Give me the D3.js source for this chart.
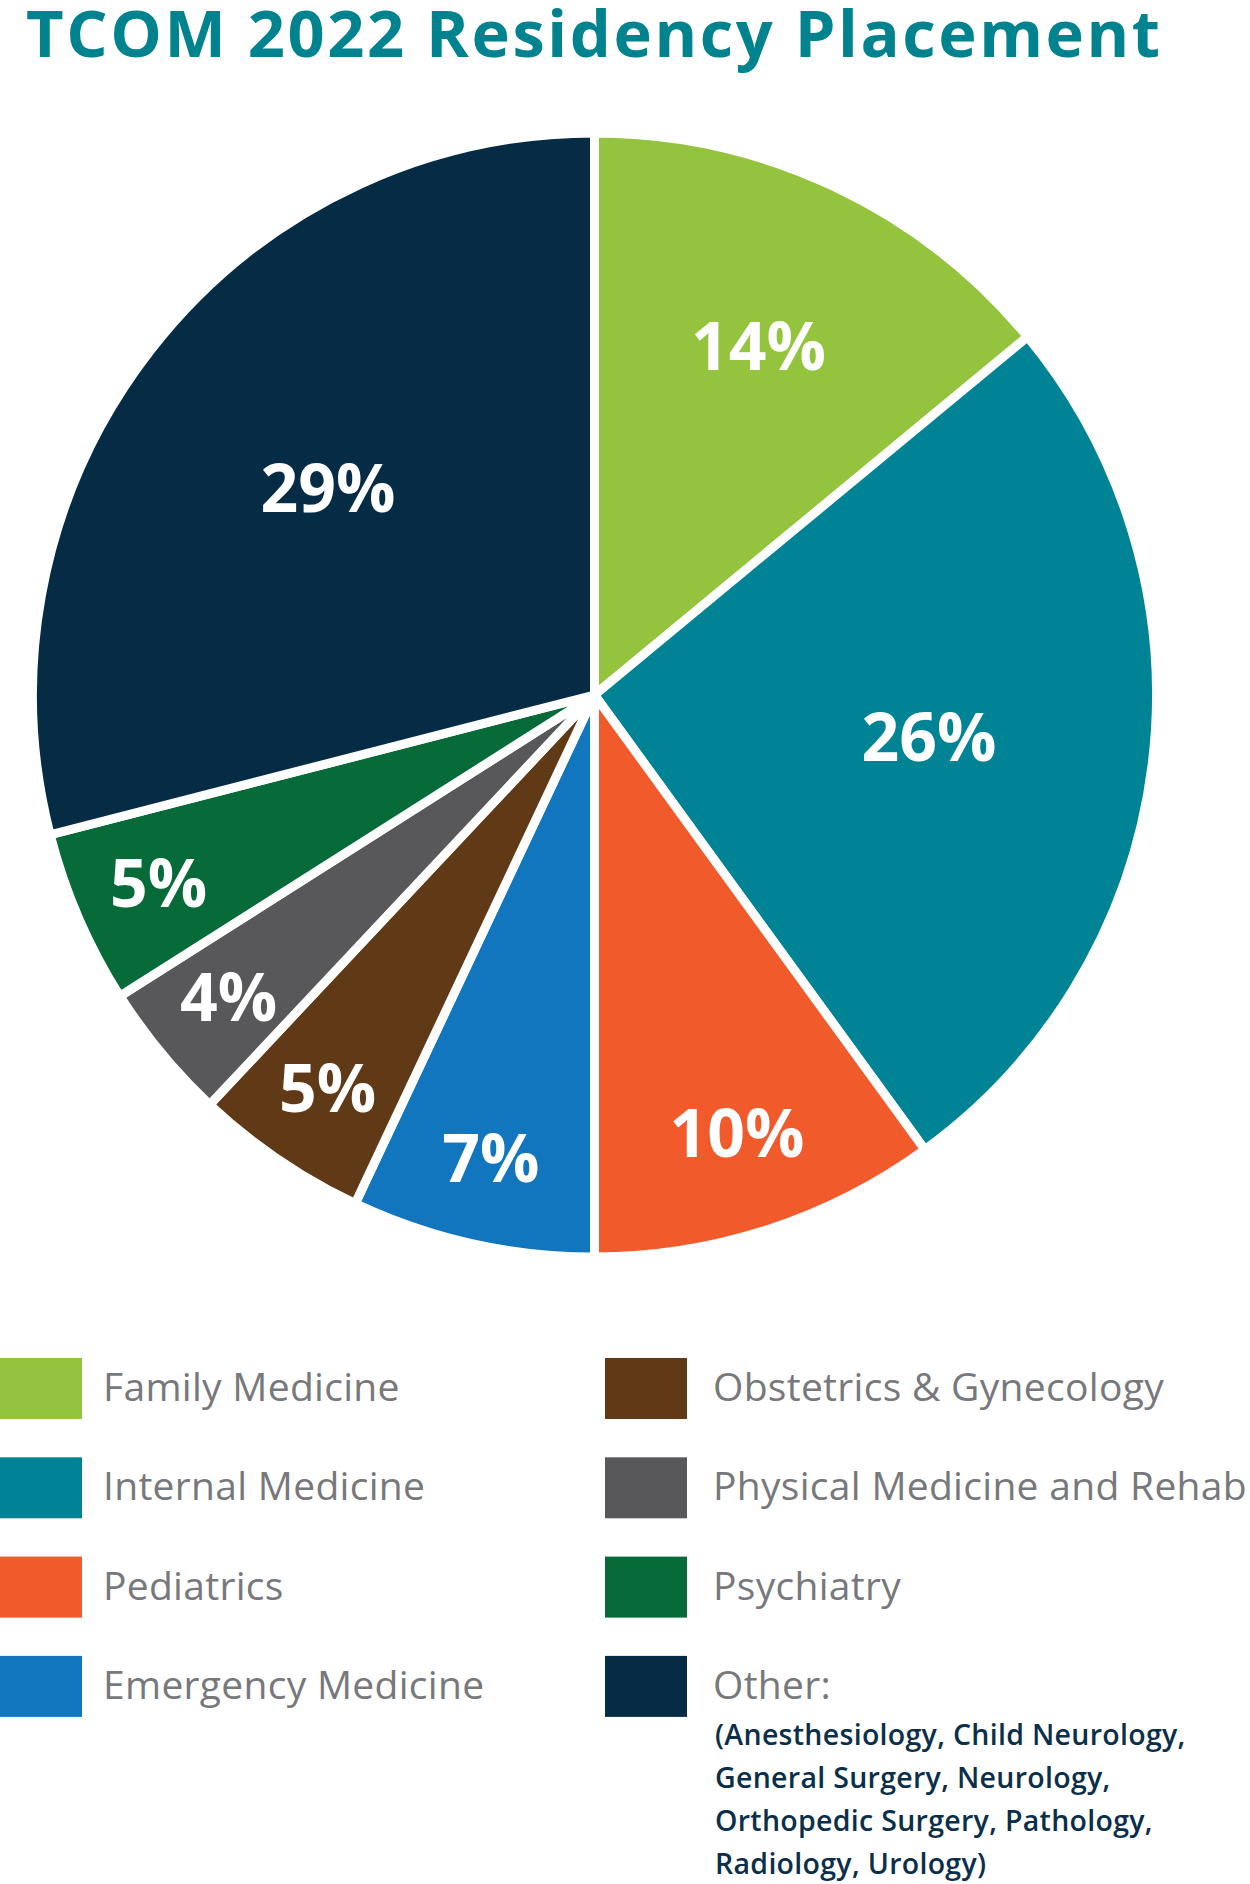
<!DOCTYPE html>
<html>
<head>
<meta charset="utf-8">
<script src="https://cdn.jsdelivr.net/npm/d3@7"></script>
<style>
  body { margin: 0; background: #fff; }
  svg { display: block; font-family: "Open Sans", sans-serif; }
</style>
</head>
<body>
<svg class="pie" width="1250" height="1884"></svg>
<script>
const categories = [
    "Family Medicine",
    "Internal Medicine",
    "Pediatrics",
    "Emergency Medicine",
    "Obstetrics & Gynecology",
    "Physical Medicine and Rehab",
    "Psychiatry",
    "Other:"
];
const percents = [14, 26, 10, 7, 5, 4, 5, 29];
const colors = ["#94c43e", "#008495", "#f15a2b", "#1176be", "#603916", "#58585a", "#066a39", "#062c45"];
const otherLines = [
    "(Anesthesiology, Child Neurology,",
    "General Surgery, Neurology,",
    "Orthopedic Surgery, Pathology,",
    "Radiology, Urology)"
];
const title = "TCOM 2022 Residency Placement";

const svg = d3.select('svg.pie');
const cx = 594.5, cy = 695, radius = 562;

// title, stretched with letter spacing to the reference width
const titleText = svg.append("text")
    .attr("x", 26)
    .attr("y", 57)
    .attr("fill", "#00838f")
    .attr("font-size", 65)
    .attr("font-weight", 700)
    .text(title);
const tw = titleText.node().getComputedTextLength();
titleText.attr("letter-spacing", (1134 - tw) / (title.length - 1));

const pie = d3.pie().sort(null).value(d => d);
const arcs = pie(percents);
const arc = d3.arc().innerRadius(0).outerRadius(radius);

const g = svg.append("g").attr("transform", `translate(${cx},${cy})`);
g.selectAll("path")
    .data(arcs)
    .join("path")
    .attr("d", arc)
    .attr("fill", (d, i) => colors[i])
    .attr("stroke", "#fff")
    .attr("stroke-width", 9)
    .attr("stroke-linejoin", "round");

// big slices get their label nearer the centre
const labelRadius = v => v >= 20 ? radius * 0.6 : v >= 12 ? radius * 0.685 : v >= 10 ? radius * 0.82 : radius * 0.845;
g.selectAll("text")
    .data(arcs)
    .join("text")
    .attr("transform", d => {
        const r = labelRadius(d.data);
        return `translate(${d3.arc().innerRadius(r).outerRadius(r).centroid(d)})`;
    })
    .attr("text-anchor", "middle")
    .attr("dy", "0.36em")
    .attr("fill", "#fff")
    .attr("font-size", 66)
    .attr("font-weight", 700)
    .text(d => d.data + "%");

// legend: two columns of four
const legend = svg.append("g");
const item = legend.selectAll("g")
    .data(categories)
    .join("g")
    .attr("transform", (d, i) => `translate(${i < 4 ? 0 : 605},${1358 + (i % 4) * 99.3})`);
item.append("rect")
    .attr("width", 82)
    .attr("height", 61)
    .attr("fill", (d, i) => colors[i]);
item.append("text")
    .attr("x", (d, i) => i < 4 ? 103 : 108)
    .attr("y", 43)
    .attr("fill", "#77787b")
    .attr("font-size", 39)
    .attr("letter-spacing", 0.3)
    .text(d => d);

legend.append("g")
    .selectAll("text")
    .data(otherLines)
    .join("text")
    .attr("x", 715)
    .attr("y", (d, i) => 1745 + i * 43)
    .attr("fill", "#0b2f4a")
    .attr("font-size", 28.5)
    .attr("font-weight", 600)
    .attr("letter-spacing", 0.3)
    .text(d => d);
</script>
</body>
</html>
